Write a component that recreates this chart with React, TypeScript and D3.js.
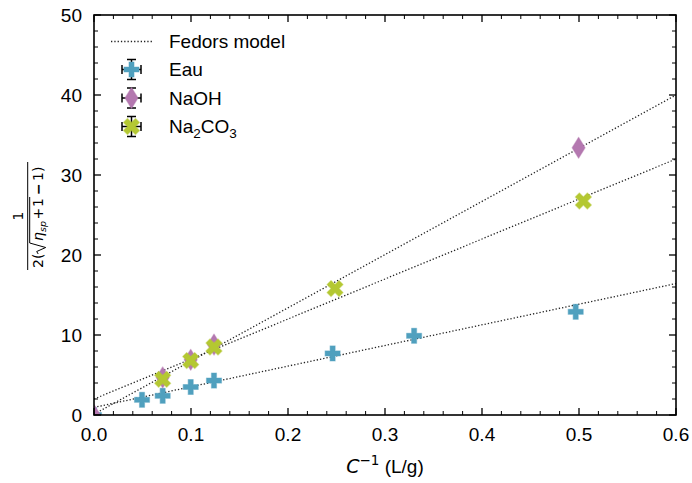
import React from "react";
import * as d3 from "d3";

const seriesNames = ["Eau", "NaOH", "Na2CO3"];
const seriesColors = ["#50a0be", "#b478b0", "#b4c832"];

const eauX = [0, 0.0495, 0.0708, 0.0997, 0.1237, 0.246, 0.33, 0.4966];
const eauY = [0, 1.9, 2.4, 3.5, 4.3, 7.7, 9.9, 12.9];
const naohX = [0, 0.0708, 0.0997, 0.1237, 0.4996];
const naohY = [0, 4.7, 6.9, 8.8, 33.4];
const na2co3X = [0.0708, 0.0997, 0.1237, 0.2485, 0.5045];
const na2co3Y = [4.46, 6.8, 8.5, 15.8, 26.75];

// Fedors model fits: y = intercept + slope * x
const fitIntercepts = [0.95, 0.1, 2.0];
const fitSlopes = [25.8, 66.5, 50];

const xTicks = [0, 0.1, 0.2, 0.3, 0.4, 0.5, 0.6];
const yTicks = [0, 10, 20, 30, 40, 50];

const W = 692;
const H = 483;
const L = 94, R = 676, T = 15, B = 415;
const FONT = "Liberation Sans, Arial, sans-serif";
const MATH = "DejaVu Sans, sans-serif";

function plusPath(s: number) {
  const h = s / 2, a = s / 6;
  return `M${-a},${-h}L${a},${-h}L${a},${-a}L${h},${-a}L${h},${a}L${a},${a}L${a},${h}L${-a},${h}L${-a},${a}L${-h},${a}L${-h},${-a}L${-a},${-a}Z`;
}
function diamondPath(w: number, h: number) {
  return `M0,${-h / 2}L${w / 2},0L0,${h / 2}L${-w / 2},0Z`;
}

function Marker({ kind, x, y, color }: { kind: number; x: number; y: number; color: string }) {
  let d = "";
  let rot = 0;
  if (kind === 0) d = plusPath(15);
  else if (kind === 1) d = diamondPath(13, 21);
  else { d = plusPath(17); rot = 45; }
  return (
    <path
      d={d}
      transform={`translate(${x},${y}) rotate(${rot})`}
      fill={color}
      stroke={color}
      strokeOpacity={0.45}
      strokeWidth={1.2}
      strokeLinejoin="round"
    />
  );
}

export default function App() {
  const x = d3.scaleLinear().domain([0, 0.6]).range([L, R]);
  const y = d3.scaleLinear().domain([0, 50]).range([B, T]);
  const xMinor = d3.range(0, 0.6001, 0.02).filter((v) => Math.abs(Math.round(v * 10) - v * 10) > 1e-6);
  const yMinor = d3.range(0, 50.001, 2).filter((v) => v % 10 !== 0);
  const data = [
    { xs: eauX, ys: eauY },
    { xs: naohX, ys: naohY },
    { xs: na2co3X, ys: na2co3Y },
  ];

  const majL = 7, minL = 4;
  const legendRows = [69.5, 98, 126.5];

  return (
    <svg width={W} height={H} style={{ position: "absolute", left: 0, top: 0, background: "#fff" }}>
      <defs>
        <clipPath id="plotclip">
          <rect x={L} y={T} width={R - L} height={B - T} />
        </clipPath>
      </defs>
      <rect width={W} height={H} fill="#fff" />
      <g clipPath="url(#plotclip)">
        {fitIntercepts.map((b, i) => {
          const xs = [0, 0.6];
          const path = d3
            .line<number>()
            .x((v) => x(v))
            .y((v) => y(b + fitSlopes[i] * v))(xs);
          return (
            <path key={"fit" + i} d={path || ""} fill="none" stroke="#222" strokeWidth={1.3} strokeDasharray="1.3 2" />
          );
        })}
        {data.map((s, si) =>
          s.xs.map((xv, j) => (
            <Marker key={si + "-" + j} kind={si} x={x(xv)} y={y(s.ys[j])} color={seriesColors[si]} />
          ))
        )}
      </g>
      <rect x={L} y={T} width={R - L} height={B - T} fill="none" stroke="#000" strokeWidth={1.6} />
      {xTicks.map((t) => (
        <g key={"xt" + t}>
          <line x1={x(t)} x2={x(t)} y1={B} y2={B - majL} stroke="#000" strokeWidth={1.3} />
          <line x1={x(t)} x2={x(t)} y1={T} y2={T + majL} stroke="#000" strokeWidth={1.3} />
          <text x={x(t)} y={440.7} textAnchor="middle" fontFamily={FONT} fontSize={19}>
            {t.toFixed(1)}
          </text>
        </g>
      ))}
      {xMinor.map((t) => (
        <g key={"xm" + t}>
          <line x1={x(t)} x2={x(t)} y1={B} y2={B - minL} stroke="#000" strokeWidth={1} />
          <line x1={x(t)} x2={x(t)} y1={T} y2={T + minL} stroke="#000" strokeWidth={1} />
        </g>
      ))}
      {yTicks.map((t) => (
        <g key={"yt" + t}>
          <line x1={L} x2={L + majL} y1={y(t)} y2={y(t)} stroke="#000" strokeWidth={1.3} />
          <line x1={R} x2={R - majL} y1={y(t)} y2={y(t)} stroke="#000" strokeWidth={1.3} />
          <text x={82} y={y(t) + 6.8} textAnchor="end" fontFamily={FONT} fontSize={19}>
            {t}
          </text>
        </g>
      ))}
      {yMinor.map((t) => (
        <g key={"ym" + t}>
          <line x1={L} x2={L + minL} y1={y(t)} y2={y(t)} stroke="#000" strokeWidth={1} />
          <line x1={R} x2={R - minL} y1={y(t)} y2={y(t)} stroke="#000" strokeWidth={1} />
        </g>
      ))}
      <text x={385} y={473} textAnchor="middle" fontFamily={FONT} fontSize={19}>
        <tspan fontFamily={MATH} fontStyle="italic">C</tspan>
        <tspan fontFamily={MATH} fontSize={13.5} dy={-8}>−1</tspan>
        <tspan dy={8}> (L/g)</tspan>
      </text>
      <g transform="translate(27.7,215) rotate(-90)" fontFamily={MATH}>
        <line x1={-55} x2={53} y1={0} y2={0} stroke="#000" strokeWidth={1} />
        <text x={-1} y={-4.4} textAnchor="middle" fontSize={14}>1</text>
        <text y={15.6} fontSize={14}>
          <tspan x={-53}>2(</tspan>
          <tspan x={-26} fontStyle="italic">η</tspan>
          <tspan x={-17} dy={3} fontSize={9.5} fontStyle="italic">sp</tspan>
          <tspan x={-4.5} dy={-3}>+</tspan>
          <tspan x={8}>1</tspan>
          <tspan x={20} fontWeight="bold">−</tspan>
          <tspan x={34}>1)</tspan>
        </text>
        <path d="M-39,10.5 L-36.5,9 L-32.5,18 L-28,2 L18,2" fill="none" stroke="#000" strokeWidth={1} />
      </g>
      <line x1={111} x2={152} y1={41.5} y2={41.5} stroke="#222" strokeWidth={1.3} strokeDasharray="1.3 2" />
      <text x={169} y={48} fontFamily={FONT} fontSize={19}>Fedors model</text>
      {seriesNames.map((n, i) => {
        const cy = legendRows[i];
        const cx = 131.5;
        return (
          <g key={"lg" + n}>
            <line x1={cx - 9.5} x2={cx + 9.5} y1={cy} y2={cy} stroke="#000" strokeWidth={1.5} />
            <line x1={cx} x2={cx} y1={cy - 10} y2={cy + 10} stroke="#000" strokeWidth={1.5} />
            <line x1={cx - 9.5} x2={cx - 9.5} y1={cy - 4.5} y2={cy + 4.5} stroke="#000" strokeWidth={1.5} />
            <line x1={cx + 9.5} x2={cx + 9.5} y1={cy - 4.5} y2={cy + 4.5} stroke="#000" strokeWidth={1.5} />
            <line x1={cx - 4.5} x2={cx + 4.5} y1={cy - 10} y2={cy - 10} stroke="#000" strokeWidth={1.5} />
            <line x1={cx - 4.5} x2={cx + 4.5} y1={cy + 10} y2={cy + 10} stroke="#000" strokeWidth={1.5} />
            <Marker kind={i} x={cx} y={cy} color={seriesColors[i]} />
            {i < 2 ? (
              <text x={169} y={cy + 6.8} fontFamily={FONT} fontSize={19}>{n}</text>
            ) : (
              <text x={169} y={cy + 6.8} fontFamily={FONT} fontSize={19}>
                Na<tspan fontSize={13.5} dy={5}>2</tspan>
                <tspan dy={-5}>CO</tspan>
                <tspan fontSize={13.5} dy={5}>3</tspan>
              </text>
            )}
          </g>
        );
      })}
    </svg>
  );
}
